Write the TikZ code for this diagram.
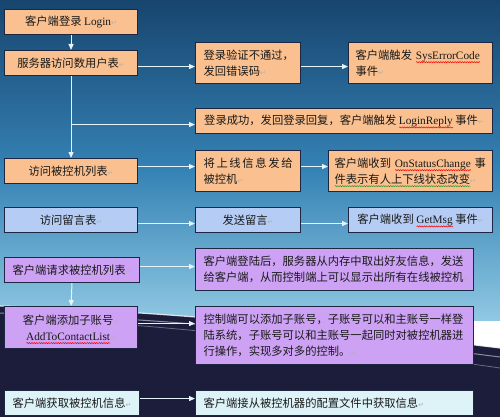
\documentclass[tikz,border=0pt]{standalone}
\usepackage{fontspec}
\usetikzlibrary{arrows.meta,decorations.pathmorphing}
\setmainfont{Noto Sans CJK SC}
\newfontfamily\lat{Liberation Serif}
\newfontfamily\symf{DejaVu Sans}
\definecolor{bgtop}{HTML}{17456E}
\definecolor{bgmid}{HTML}{3582B5}
\definecolor{bglow}{HTML}{8FC8E2}
\definecolor{bgdark}{HTML}{1B1D3A}
\definecolor{orangef}{HTML}{FAC08F}
\definecolor{bluef}{HTML}{B5CDF4}
\definecolor{purplef}{HTML}{CDA2F5}
\definecolor{cyanf}{HTML}{DDF3F7}
\definecolor{bdr}{HTML}{1E2742}
\definecolor{arr}{HTML}{E4F3FC}
\definecolor{wavegreen}{HTML}{2E9A2E}
\newlength\wavelen
\newcommand\retmark{{\symf\fontsize{7}{7}\selectfont\textcolor{gray!60}{↵}}}
\newcommand\wavyword[2]{\settowidth\wavelen{#2}\leavevmode\rlap{\raisebox{-2.8pt}[0pt][0pt]{\tikz[baseline=0pt]\draw[#1, line width=.5pt, decorate, decoration={snake, amplitude=.6pt, segment length=2.4pt}] (0pt,0pt) -- (\wavelen,0pt);}}{#2}}
\tikzset{
  bx/.style={draw=bdr, line width=1.1pt, anchor=north west, inner xsep=8pt, inner ysep=0pt,
    font=\fontsize{11.3}{16}\selectfont, text=black!90},
  ob/.style={bx, fill=orangef},
  bb/.style={bx, fill=bluef},
  pb/.style={bx, fill=purplef},
  cb/.style={bx, fill=cyanf},
  conn/.style={draw=arr, line width=1pt, -{Triangle[length=6pt,width=5pt]}}
}
\begin{document}
\begin{tikzpicture}[x=1pt,y=-1pt]
\useasboundingbox (0,0) rectangle (500,417);
% background
\shade[top color=bgtop, bottom color=bgmid] (0,0) rectangle (500,170);
\shade[top color=bgmid, bottom color=bglow] (0,170) rectangle (500,320);
\fill[bgdark] (0,306) .. controls (180,312) and (350,330) .. (500,348) -- (500,417) -- (0,417) -- cycle;
\draw[white, opacity=.8, line width=1.2pt] (0,306) .. controls (180,312) and (350,330) .. (500,348);
\draw[white, opacity=.5, line width=1pt] (0,313) .. controls (200,320) and (350,338) .. (500,357);
\draw[white, opacity=.35, line width=.8pt] (60,320) .. controls (220,330) and (360,348) .. (500,368);
% row 1
\node[ob, minimum width=133pt, minimum height=25pt] (n1) at (4,9) {客户端登录 {\lat Login}\retmark};
% row 2
\node[ob, minimum width=133pt, minimum height=25pt] (n2) at (4,50) {服务器访问数用户表\retmark};
\node[ob, text width=89pt, minimum height=41pt, align=left] (e1) at (195,42) {登录验证不通过，\\发回错误码\retmark};
\node[ob, text width=130pt, minimum height=41pt, align=left, inner xsep=7pt] (e2) at (348,42) {\mbox{客户端触发 \wavyword{red}{\lat SysErrorCode}}\\事件\retmark};
% row 3
\node[ob, minimum width=297pt, minimum height=25pt] (lr) at (195,108) {登录成功，发回登录回复，客户端触发 \wavyword{red}{\lat LoginReply} 事件\retmark};
% row 4
\node[ob, minimum width=133pt, minimum height=25pt] (n4) at (4,158) {访问被控机列表\retmark};
\node[ob, text width=89pt, minimum height=41pt, align=left] (f1) at (195,150) {\makebox[89pt][s]{将\hfill 上\hfill 线\hfill 信\hfill 息\hfill 发\hfill 给}\\被控机\retmark};
\node[ob, text width=152pt, minimum height=41pt, align=left, inner xsep=6pt] (f2) at (328,150) {\mbox{客户端收到 \wavyword{red}{\lat OnStatusChange} 事}\\\wavyword{wavegreen}{件表示有人上下线状态改变}\retmark};
% row 5
\node[bb, minimum width=133pt, minimum height=25pt] (n5) at (4,207) {访问留言表\retmark};
\node[bb, minimum width=105pt, minimum height=25pt] (g1) at (195,207) {发送留言\retmark};
\node[bb, minimum width=144pt, minimum height=25pt] (g2) at (348,207) {客户端收到 \wavyword{red}{\lat GetMsg} 事件\retmark};
% row 6
\node[pb, text width=262pt, minimum height=42pt, align=left] (h1) at (195,248) {客户端登陆后，服务器从内存中取出好友信息，发送\\给客户端，从而控制端上可以显示出所有在线被控机\retmark};
\node[pb, minimum width=133pt, minimum height=25pt] (n6) at (4,257) {客户端请求被控机列表\retmark};
% row 7
\node[pb, minimum width=133pt, minimum height=42pt, align=center] (n7) at (4,306) {客户端添加子账号\retmark\\\wavyword{red}{\lat AddToContactList}\retmark};
\node[pb, text width=262pt, minimum height=58pt, align=left] (i1) at (195,306) {控制端可以添加子账号，子账号可以和主账号一样登\\陆系统，子账号可以和主账号一起同时对被控机器进\\行操作，实现多对多的控制。\retmark};
% row 8
\node[cb, minimum width=133pt, minimum height=25pt] (n8) at (4,390) {客户端获取被控机信息\retmark};
\node[cb, text width=262pt, minimum height=25pt, align=left] (j1) at (195,390) {客户端接从被控机器的配置文件中获取信息\retmark};
% connectors
\draw[conn] (n1.south) -- (n2.north);
\draw[conn] ([yshift=-3.5pt]n2.east) -- ([yshift=-3.5pt]e1.west |- n2.east);
\draw[conn] ([yshift=-3.5pt]e1.east) -- ([yshift=-3.5pt]e2.west |- e1.east);
\draw[conn] (n2.south) -- (n4.north);
\coordinate (br) at ([yshift=-3.5pt]n2.south |- lr.west);
\draw[conn] (br) -- ([yshift=-3.5pt]lr.west);
\draw[conn] ([yshift=4.5pt]n4.east) -- ([yshift=4.5pt]f1.west |- n4.east);
\draw[conn] ([yshift=4.5pt]f1.east) -- ([yshift=4.5pt]f2.west |- f1.east);
\draw[conn] ([yshift=-3.5pt]n5.east) -- ([yshift=-3.5pt]g1.west);
\draw[conn] ([yshift=-3.5pt]g1.east) -- ([yshift=-3.5pt]g2.west);
\draw[conn] ([yshift=3.5pt]n6.east) -- ([yshift=3.5pt]h1.west |- n6.east);
\draw[conn] (n6.south) -- (n7.north);
\draw[conn] ([yshift=4pt]n7.east) -- ([yshift=4pt]i1.west |- n7.east);
\draw[conn] ([yshift=4.5pt]n8.east) -- ([yshift=4.5pt]j1.west |- n8.east);
\end{tikzpicture}
\end{document}
